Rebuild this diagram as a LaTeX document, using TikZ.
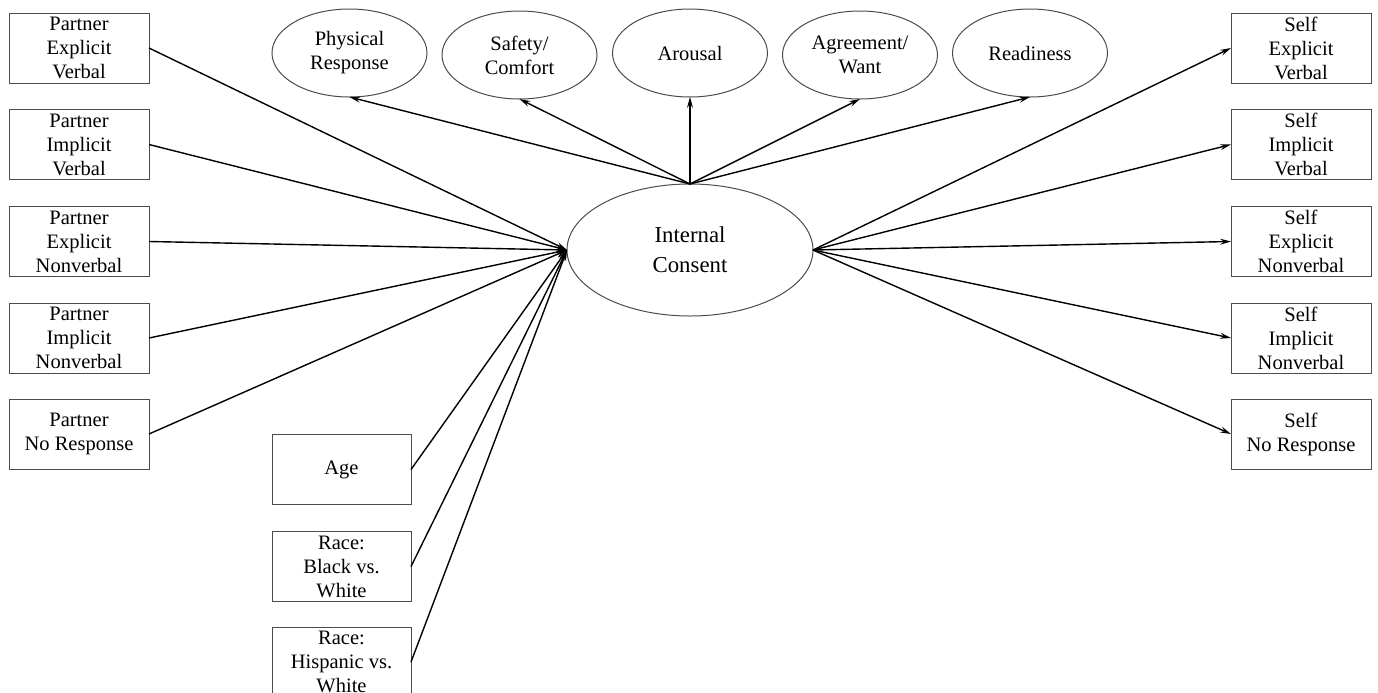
\documentclass[tikz,border=0pt]{standalone}
\usepackage{fontspec}
\setmainfont{Liberation Serif}
\usetikzlibrary{arrows.meta,shapes.geometric}
\begin{document}
\begin{tikzpicture}[x=0.5pt,y=-0.5pt,
  box/.style={draw=black!70,line width=0.5pt,rectangle,minimum width=70pt,minimum height=35pt,inner sep=0pt,outer sep=0pt,align=center,font=\fontsize{10.25}{12}\selectfont},
  oval/.style={draw=black!70,line width=0.5pt,ellipse,minimum width=77.5pt,minimum height=44pt,inner sep=0pt,outer sep=0pt,align=center,font=\fontsize{10.25}{12}\selectfont},
  bigoval/.style={draw=black!70,line width=0.5pt,ellipse,minimum width=123pt,minimum height=66pt,inner sep=0pt,outer sep=0pt,align=center,font=\fontsize{11.4}{15}\selectfont},
  conn/.style={line width=0.7pt,-{Stealth[length=5.5pt,width=3pt,inset=2pt]}}]
\useasboundingbox (0,0) rectangle (1378,692);
\clip (0,0) rectangle (1378,692);
\fill[white] (0,0) rectangle (1378,692);
% central
\node[bigoval] (ic) at (690,250) {Internal\\Consent};
% top ellipses
\node[oval] (phys) at (349.5,53) {Physical\\Response};
\node[oval] (safe) at (519.5,55) {Safety/\\Comfort};
\node[oval] (arou) at (690,53) {Arousal};
\node[oval] (agre) at (860,55) {Agreement/\\Want};
\node[oval] (read) at (1030,53) {Readiness};
% left boxes
\node[box] (p1) at (79,48) {Partner\\Explicit\\Verbal};
\node[box] (p2) at (79,144.5) {Partner\\Implicit\\Verbal};
\node[box] (p3) at (79,241.5) {Partner\\Explicit\\Nonverbal};
\node[box] (p4) at (79,338) {Partner\\Implicit\\Nonverbal};
\node[box] (p5) at (79,434) {Partner\\No Response};
% bottom boxes
\node[box,minimum width=69.5pt] (age) at (341.5,469.5) {Age};
\node[box,minimum width=69.5pt] (rb) at (341.5,566.5) {Race:\\Black vs.\\White};
\node[box,minimum width=69.5pt] (rh) at (341.5,662) {Race:\\Hispanic vs.\\White};
% right boxes
\node[box] (s1) at (1301,48) {Self\\Explicit\\Verbal};
\node[box] (s2) at (1301,144.5) {Self\\Implicit\\Verbal};
\node[box] (s3) at (1301,241.5) {Self\\Explicit\\Nonverbal};
\node[box] (s4) at (1301,338) {Self\\Implicit\\Nonverbal};
\node[box] (s5) at (1301,434) {Self\\No Response};
% connectors in
\foreach \n in {p1,p2,p3,p4,p5,age,rb,rh}
  \draw[conn] (\n.east) -- (ic.west);
% connectors out to top
\foreach \n in {phys,safe,arou,agre,read}
  \draw[conn] (ic.north) -- (\n.south);
% connectors out to right
\foreach \n in {s1,s2,s3,s4,s5}
  \draw[conn] (ic.east) -- (\n.west);
\end{tikzpicture}
\end{document}
